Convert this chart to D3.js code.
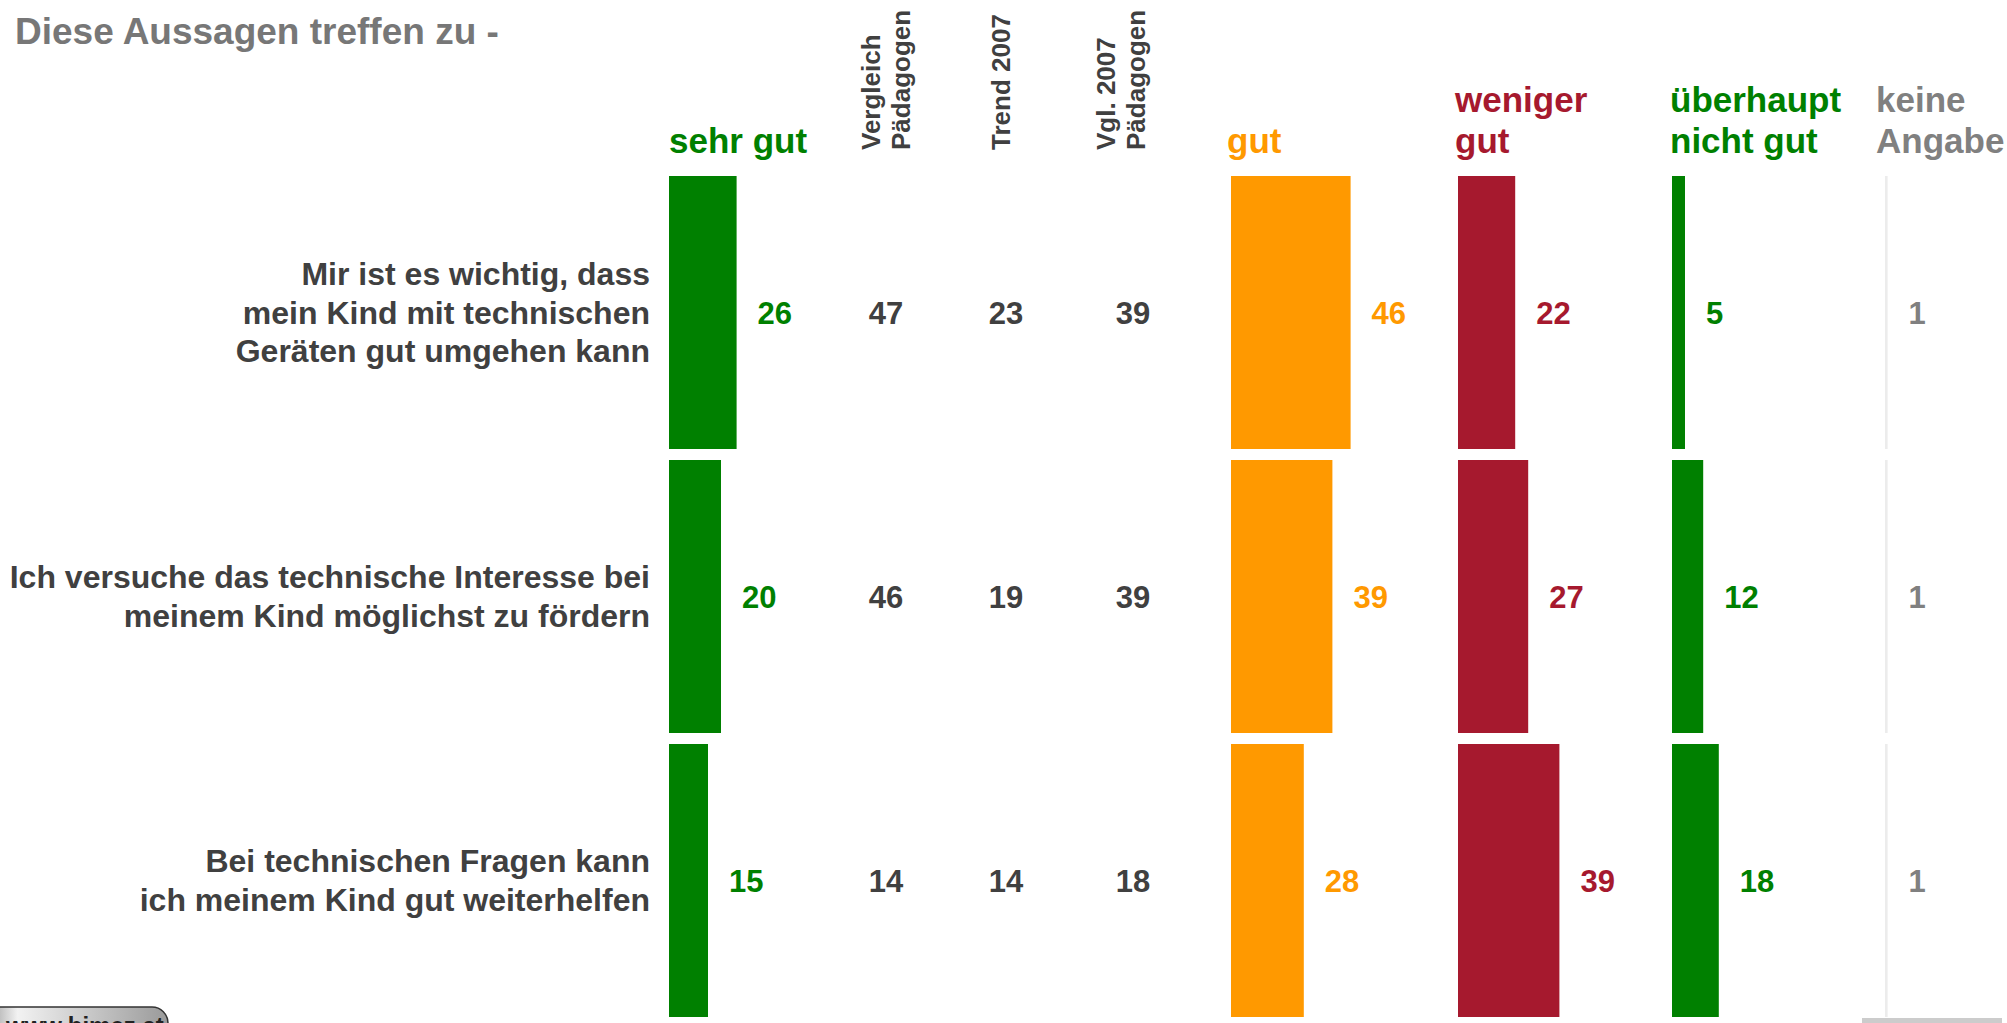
<!DOCTYPE html>
<html>
<head>
<meta charset="utf-8">
<script src="https://cdn.jsdelivr.net/npm/d3@7"></script>
<style>
body { margin:0; background:#fff; }
text { font-family:"Liberation Sans", Arial, sans-serif; font-weight:bold; }
</style>
</head>
<body>
<div id="chart"></div>
<script>
// statements (rows)
var rowLabels = [
	["Mir ist es wichtig, dass", "mein Kind mit technischen", "Geräten gut umgehen kann"],
	["Ich versuche das technische Interesse bei", "meinem Kind möglichst zu fördern"],
	["Bei technischen Fragen kann", "ich meinem Kind gut weiterhelfen"]
];
var rowIds = ["r0", "r1", "r2"];

// answer categories
var categories = ["sehr gut", "gut", "weniger gut", "überhaupt nicht gut", "keine Angabe"];
var catHeaders = [["sehr gut"], ["gut"], ["weniger", "gut"], ["überhaupt", "nicht gut"], ["keine", "Angabe"]];
var sehrGut = [26, 20, 15];
var gut = [46, 39, 28];
var wenigerGut = [22, 27, 39];
var ueberhauptNicht = [5, 12, 18];
var keineAngabe = [1, 1, 1];

// comparison columns
var compHeaders = [["Vergleich", "Pädagogen"], ["Trend 2007"], ["Vgl. 2007", "Pädagogen"]];
var vergleichPaed = [47, 46, 14];
var trend2007 = [23, 19, 14];
var vgl2007Paed = [39, 39, 18];

var title = "Diese Aussagen treffen zu -";

window.onload = function() {
	var W = 2007, H = 1023;
	var svg = d3.select("#chart").append("svg").attr("width", W).attr("height", H);

	var series = [sehrGut, gut, wenigerGut, ueberhauptNicht, keineAngabe];
	var barColors = ["#008000", "#ff9900", "#a6192e", "#008000", "#ececec"];
	var textColors = ["#008000", "#ff9900", "#a6192e", "#008000", "#808080"];

	var y = d3.scaleBand().domain(rowIds).range([176, 1017]).paddingInner(11 / 284).paddingOuter(0);
	var x = d3.scaleLinear().domain([0, 100]).range([0, 260]);
	var colX = d3.scaleOrdinal().domain(categories).range([669, 1231, 1458, 1672, 1885]);
	var headX = d3.scaleOrdinal().domain(categories).range([669, 1227, 1455, 1670, 1876]);
	var compX = d3.scalePoint().domain([0, 1, 2]).range([886, 1133]);
	compX = function(i) { return [886, 1006, 1133][i]; };
	var compHeadX = [895, 1010, 1130];

	// title
	svg.append("text").attr("x", 15).attr("y", 44)
		.attr("font-size", 37).attr("fill", "#777777").text(title);

	// row labels
	rowLabels.forEach(function(lines, r) {
		var cy = y(rowIds[r]) + y.bandwidth() / 2;
		var lh = 38.5;
		var t = svg.append("text").attr("text-anchor", "end").attr("font-size", 32).attr("fill", "#404040");
		lines.forEach(function(l, k) {
			t.append("tspan").attr("x", 650)
				.attr("y", cy + 11 + (k - (lines.length - 1) / 2) * lh)
				.text(l);
		});
	});

	// category headers
	categories.forEach(function(c, i) {
		var lines = catHeaders[i];
		var t = svg.append("text").attr("font-size", 35).attr("fill", textColors[i]);
		lines.forEach(function(l, k) {
			t.append("tspan").attr("x", headX(c))
				.attr("y", 153 - (lines.length - 1 - k) * 41)
				.text(l);
		});
	});

	// bars + value labels
	for (var s = 0; s < series.length; s++) {
		var cat = categories[s];
		svg.append("g").selectAll(".bar" + s).data(series[s]).enter()
			.append("rect").attr("class", "bar" + s)
			.attr("x", colX(cat))
			.attr("y", function(d, i) { return y(rowIds[i]); })
			.attr("width", function(d) { return x(d); })
			.attr("height", y.bandwidth())
			.attr("fill", barColors[s]);

		svg.append("g").selectAll(".val" + s).data(series[s]).enter()
			.append("text").attr("class", "val" + s)
			.attr("x", function(d) { return colX(cat) + x(d) + 21; })
			.attr("y", function(d, i) { return y(rowIds[i]) + y.bandwidth() / 2 + 11; })
			.attr("font-size", 31)
			.attr("fill", textColors[s])
			.text(function(d) { return d; });
	}

	// comparison columns
	var comps = [vergleichPaed, trend2007, vgl2007Paed];
	comps.forEach(function(vals, c) {
		svg.append("g").selectAll(".cmp" + c).data(vals).enter()
			.append("text").attr("class", "cmp" + c)
			.attr("text-anchor", "middle")
			.attr("x", compX(c))
			.attr("y", function(d, i) { return y(rowIds[i]) + y.bandwidth() / 2 + 11; })
			.attr("font-size", 31).attr("fill", "#404040")
			.text(function(d) { return d; });

		var lines = compHeaders[c];
		lines.forEach(function(l, k) {
			var bx = lines.length == 1 ? compHeadX[c] : compHeadX[c] + (k == 0 ? -15 : 15);
			svg.append("text")
				.attr("transform", "translate(" + bx + ",150) rotate(-90)")
				.attr("font-size", 26).attr("fill", "#404040")
				.text(l);
		});
	});

	// cut-off logo bottom left
	var grad = svg.append("defs").append("linearGradient").attr("id", "lg")
		.attr("x1", 0).attr("x2", 1).attr("y1", 0).attr("y2", 0);
	grad.append("stop").attr("offset", "0%").attr("stop-color", "#8a8a8a");
	grad.append("stop").attr("offset", "20%").attr("stop-color", "#f2f2f2");
	grad.append("stop").attr("offset", "100%").attr("stop-color", "#9a9a9a");
	svg.append("rect").attr("x", -20).attr("y", 1007).attr("width", 188).attr("height", 40)
		.attr("rx", 16).attr("fill", "url(#lg)").attr("stroke", "#333").attr("stroke-width", 1.5);
	svg.append("text").attr("x", 6).attr("y", 1034).attr("font-size", 24).attr("fill", "#222")
		.text("www.bimez.at");

	// grey strip bottom right
	svg.append("rect").attr("x", 1862).attr("y", 1018).attr("width", 140).attr("height", 5).attr("fill", "#cccccc");
};
</script>
</body>
</html>
